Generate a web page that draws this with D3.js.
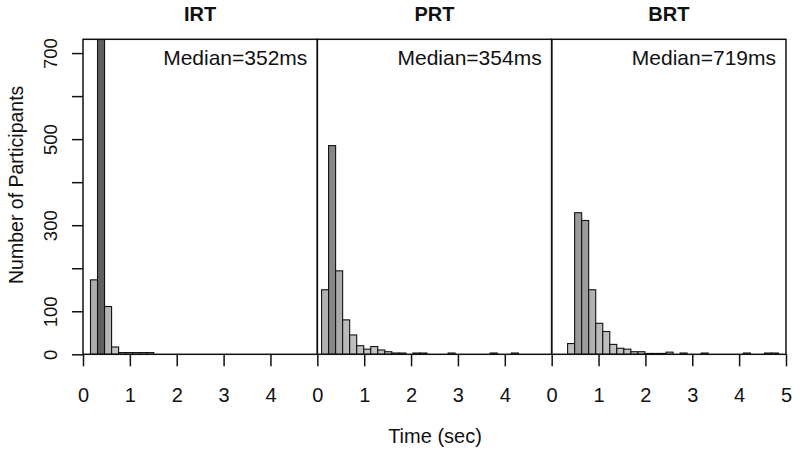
<!DOCTYPE html>
<meta charset="utf-8">
<head>
    <script type="text/javascript" src="https://d3js.org/d3.v7.min.js"></script>

    <style>
        body {
            margin: 0;
            background: #ffffff;
        }

        text {
            font-family: "Liberation Sans", Arial, sans-serif;
            fill: #111111;
        }
    </style>
</head>

<body>
    <div id="chart"></div>

    <script>

        // data

        let panel_names = ["IRT", "PRT", "BRT"]
        let median_labels = ["Median=352ms", "Median=354ms", "Median=719ms"]

        // histogram bins: every bin is 0.15 s wide, first bin starts at these times
        let bin_width = 0.15
        let bin_starts = [0.16, 0.09, 0.34]

        let irt_counts = [173, 790, 111, 17, 4, 4, 4, 4, 4]
        let prt_counts = [150, 485, 194, 80, 45, 20, 12, 18, 10, 6, 3, 3, 0, 3, 3, 0, 0, 0, 3, 0, 0, 0, 0, 0, 3, 0, 0, 3]
        let brt_counts = [25, 329, 311, 150, 72, 53, 23, 14, 12, 6, 6, 2, 2, 2, 5, 0, 3, 0, 0, 3, 0, 0, 0, 0, 0, 3, 0, 0, 3, 3]

        let y_ticks = [0, 100, 200, 300, 400, 500, 600, 700]
        let y_labels = [0, 100, 300, 500, 700]
        let x_ticks = [[0, 1, 2, 3, 4], [0, 1, 2, 3, 4], [0, 1, 2, 3, 4, 5]]

        let all_counts = [irt_counts, prt_counts, brt_counts]

        // dimensions

        let svg_width = 800
        let svg_height = 454

        let plot = {
            left: 83,
            right: 786,
            top: 39.3,
            bottom: 354.3
        }

        let panel_width = (plot.right - plot.left) / 3

        let svg = d3.select("#chart")
            .append("svg")
            .attr("width", svg_width)
            .attr("height", svg_height)

        svg.append("rect")
            .attr("width", svg_width)
            .attr("height", svg_height)
            .attr("fill", "#ffffff")

        // y scale is shared by all three panels
        let y = d3.scaleLinear()
            .domain([0, 732])
            .range([plot.bottom, plot.top])

        // darker stipple for taller bars
        let shade = d3.scaleLinear()
            .domain([0, 800])
            .range(["#c4c4c4", "#5e5e5e"])

        svg.append("clipPath")
            .attr("id", "plot_clip")
            .append("rect")
            .attr("x", plot.left)
            .attr("y", plot.top)
            .attr("width", plot.right - plot.left)
            .attr("height", plot.bottom - plot.top)

        for (let i = 0; i < panel_names.length; i = i + 1) {

            let x0 = plot.left + i * panel_width

            let x = d3.scaleLinear()
                .domain([0, 5])
                .range([x0, x0 + panel_width])

            let bins = all_counts[i].map(function (c, k) {
                return {
                    start: bin_starts[i] + k * bin_width,
                    count: c
                }
            })

            svg.append("g")
                .attr("clip-path", "url(#plot_clip)")
                .selectAll("rect")
                .data(bins.filter(function (d) { return d.count > 0 }))
                .enter()
                .append("rect")
                .attr("x", function (d) { return x(d.start) })
                .attr("width", function (d) { return x(d.start + bin_width) - x(d.start) })
                .attr("y", function (d) { return y(d.count) })
                .attr("height", function (d) { return y(0) - y(d.count) })
                .attr("fill", function (d) { return shade(d.count) })
                .attr("stroke", "#111111")
                .attr("stroke-width", 1.1)

            // x axis for this panel
            let x_axis = svg.append("g")
                .attr("transform", "translate(0," + plot.bottom + ")")
                .call(d3.axisBottom(x)
                    .tickValues(x_ticks[i])
                    .tickSize(12)
                    .tickFormat(d3.format("d")))

            x_axis.select(".domain").remove()
            x_axis.selectAll("line")
                .attr("stroke", "#111111")
                .attr("stroke-width", 1.5)
            x_axis.selectAll("text")
                .attr("y", 34)
                .attr("dy", "0.71em")
                .style("font-size", "20px")
                .style("font-family", "'Liberation Sans', Arial, sans-serif")

            // panel title
            svg.append("text")
                .attr("x", x0 + panel_width / 2)
                .attr("y", 21)
                .attr("text-anchor", "middle")
                .style("font-size", "20px")
                .style("font-weight", "bold")
                .text(panel_names[i])

            // median label
            svg.append("text")
                .attr("x", x0 + panel_width - 10)
                .attr("y", 65)
                .attr("text-anchor", "end")
                .style("font-size", "21px")
                .text(median_labels[i])

            // panel frame
            svg.append("rect")
                .attr("x", x0)
                .attr("y", plot.top)
                .attr("width", panel_width)
                .attr("height", plot.bottom - plot.top)
                .attr("fill", "none")
                .attr("stroke", "#111111")
                .attr("stroke-width", 1.5)

        }

        // y axis only on the first panel
        let y_axis = svg.append("g")
            .attr("transform", "translate(" + plot.left + ",0)")
            .call(d3.axisLeft(y)
                .tickValues(y_ticks)
                .tickSize(11)
                .tickFormat(function (d) { return y_labels.includes(d) ? d : "" }))

        y_axis.select(".domain").remove()
        y_axis.selectAll("line")
            .attr("stroke", "#111111")
            .attr("stroke-width", 1.5)
        y_axis.selectAll("text")
            .attr("transform", "rotate(-90)")
            .attr("x", 0)
            .attr("y", -26.5)
            .attr("dy", 0)
            .attr("text-anchor", "middle")
            .style("font-size", "18.5px")
            .style("font-family", "'Liberation Sans', Arial, sans-serif")

        // axis titles
        svg.append("text")
            .attr("transform", "translate(23," + ((plot.top + plot.bottom) / 2 - 12) + ") rotate(-90)")
            .attr("text-anchor", "middle")
            .style("font-size", "19.5px")
            .text("Number of Participants")

        svg.append("text")
            .attr("x", 435)
            .attr("y", 443)
            .attr("text-anchor", "middle")
            .style("font-size", "20px")
            .text("Time (sec)")

    </script>

</body>

</html>
